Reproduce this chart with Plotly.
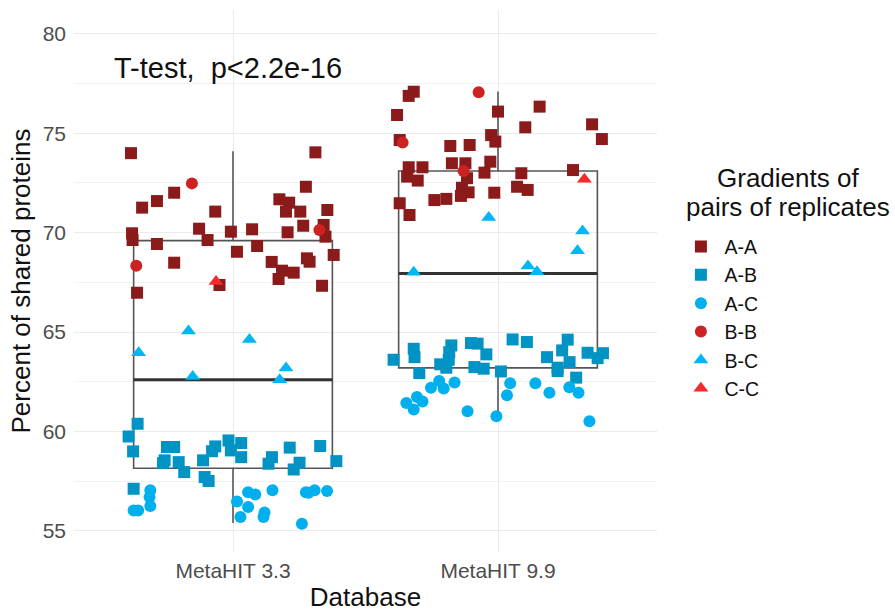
import plotly.graph_objects as go

# ---------------- data ----------------
databases = ["MetaHIT 3.3", "MetaHIT 9.9"]
groups = ["A-A", "A-B", "A-C", "B-B", "B-C", "C-C"]
legend_title_lines = ["Gradients of", "pairs of replicates"]

# box statistics (per database)
box_q1 = [58.15, 63.2]
box_median = [62.6, 67.95]
box_q3 = [69.6, 73.1]
box_low = [55.4, 60.9]
box_high = [74.1, 77.1]

# point values (per group, per database) with horizontal jitter offsets
AA_33 = [74.0, 74.04, 72.01, 71.59, 71.26, 72.31, 71.68, 71.51, 71.06, 71.06, 71.14, 71.06,
         69.97, 69.63, 70.20, 69.63, 70.05, 70.17, 70.35, 70.39, 70.02, 69.80, 69.43, 69.04,
         69.33, 68.88, 68.49, 68.53, 68.71, 68.54, 68.09, 67.99, 67.67, 67.33, 67.37, 66.98]
AA_33_dx = [-0.385, 0.311, -0.222, -0.287, -0.343, 0.275, 0.175, 0.212, 0.2, 0.254, 0.356, -0.067,
            -0.381, -0.379, -0.128, -0.096, -0.008, 0.072, 0.265, 0.342, 0.206, 0.349, -0.287, 0.015,
            0.091, 0.38, -0.222, 0.146, 0.279, 0.289, 0.185, 0.229, 0.172, 0.336, -0.051, -0.362]
AA_99 = [77.09, 76.88, 75.92, 76.09, 76.34, 75.30, 75.45, 74.71, 74.66, 74.36, 74.41, 74.91,
         74.58, 73.49, 73.49, 73.57, 73.02, 73.29, 73.29, 72.82, 72.62, 72.74, 72.26, 72.03,
         71.85, 71.64, 71.70, 72.01, 72.99, 72.31, 72.15, 73.15, 71.48, 70.89]
AA_99_dx = [-0.318, -0.337, -0.381, 0.0, 0.157, 0.103, 0.355, 0.392, -0.371, -0.18, -0.107, -0.026,
            -0.01, -0.174, -0.123, -0.029, -0.051, -0.337, -0.285, -0.343, -0.303, -0.117, -0.136, -0.111,
            -0.14, -0.24, -0.195, -0.014, 0.088, 0.072, 0.112, 0.283, -0.371, -0.334]

AB_33 = [60.39, 59.75, 59.0, 59.22, 59.22, 58.55, 58.41, 58.46, 57.96, 58.55, 59.25, 59.01, 59.55,
         59.42, 58.71, 59.05, 57.71, 57.51, 58.71, 58.38, 59.19, 58.43, 58.09, 59.27, 58.51, 57.12]
AB_33_dx = [-0.36, -0.394, -0.377, -0.249, -0.222, -0.258, -0.264, -0.205, -0.184, -0.113, -0.067, -0.079, -0.017,
            0.031, 0.031, -0.008, -0.107, -0.092, 0.147, 0.134, 0.214, 0.251, 0.229, 0.329, 0.39, -0.375]
AB_99 = [63.61, 64.16, 63.74, 62.94, 64.33, 63.99, 63.61, 63.38, 63.21, 64.45, 64.42, 63.88, 63.24, 63.16,
         63.02, 64.63, 64.50, 63.74, 64.62, 64.08, 63.49, 63.21, 63.04, 62.71, 63.96, 63.94, 63.69]
AB_99_dx = [-0.394, -0.318, -0.315, -0.297, -0.176, -0.184, -0.186, -0.218, -0.195, -0.102, -0.077, -0.044, -0.089, -0.054,
            0.011, 0.055, 0.109, 0.185, 0.263, 0.242, 0.27, 0.225, 0.225, 0.295, 0.338, 0.396, 0.376]

AC_33 = [57.04, 56.7, 56.25, 56.03, 56.03, 56.48, 56.95, 56.83, 56.20, 55.70, 57.05, 55.93, 55.70,
         55.36, 56.95, 57.04, 57.01, 56.92]
AC_33_dx = [-0.312, -0.315, -0.312, -0.375, -0.358, 0.015, 0.057, 0.084, 0.057, 0.028, 0.149, 0.119, 0.115,
            0.26, 0.275, 0.308, 0.355, 0.285]
AC_99 = [61.43, 61.73, 61.51, 61.11, 62.20, 62.54, 62.16, 62.46, 61.02, 60.77, 62.43, 61.82, 62.43,
         61.95, 62.23, 61.95, 60.52]
AC_99_dx = [-0.346, -0.306, -0.285, -0.318, -0.253, -0.222, -0.205, -0.164, -0.115, -0.006, 0.046, 0.034, 0.141,
            0.194, 0.269, 0.304, 0.345]

BB_33 = [72.48, 70.14, 68.34]
BB_33_dx = [-0.155, 0.326, -0.365]
BB_99 = [77.06, 74.53, 73.10]
BB_99_dx = [-0.073, -0.36, -0.13]

BC_33 = [63.96, 65.05, 64.63, 62.77, 63.19, 62.6]
BC_33_dx = [-0.356, -0.168, 0.062, -0.152, 0.2, 0.176]
BC_99 = [70.77, 70.09, 69.09, 68.01, 68.32, 68.04]
BC_99_dx = [-0.035, 0.319, 0.3, -0.318, 0.113, 0.147]

CC_33 = [67.54]
CC_33_dx = [-0.064]
CC_99 = [72.69]
CC_99_dx = [0.326]

annotation_text = "T-test,  p<2.2e-16"

# ---------------- figure ----------------
FONT = "Liberation Sans, Arial, sans-serif"
fig = go.Figure()

box_x = [1, 2]
fig.add_trace(go.Box(
    x=box_x, q1=box_q1, median=box_median, q3=box_q3,
    lowerfence=box_low, upperfence=box_high,
    width=0.75, whiskerwidth=0, boxpoints=False,
    line=dict(color="#555555", width=1.6),
    fillcolor="rgba(0,0,0,0)", showlegend=False, hoverinfo="skip",
))
# thicker median lines, as in ggplot
for i, m in enumerate(box_median):
    fig.add_trace(go.Scatter(
        x=[box_x[i] - 0.375, box_x[i] + 0.375], y=[m, m], mode="lines",
        line=dict(color="#333333", width=3), showlegend=False, hoverinfo="skip",
    ))

series = [
    ("A-A", AA_33, AA_33_dx, AA_99, AA_99_dx, "square", "#8B1A1A", 12),
    ("A-B", AB_33, AB_33_dx, AB_99, AB_99_dx, "square", "#0093C4", 12),
    ("A-C", AC_33, AC_33_dx, AC_99, AC_99_dx, "circle", "#00B0EE", 12),
    ("B-B", BB_33, BB_33_dx, BB_99, BB_99_dx, "circle", "#CC2222", 12),
    ("B-C", BC_33, BC_33_dx, BC_99, BC_99_dx, "triangle-up", "#00B7F5", 13),
    ("C-C", CC_33, CC_33_dx, CC_99, CC_99_dx, "triangle-up", "#F52A2A", 13),
]
for name, y1, d1, y2, d2, sym, col, sz in series:
    xs = [1 + d for d in d1] + [2 + d for d in d2]
    ys = list(y1) + list(y2)
    fig.add_trace(go.Scatter(
        x=xs, y=ys, mode="markers", name=name,
        marker=dict(symbol=sym, color=col, size=sz, line=dict(width=0)),
    ))

fig.add_annotation(x=0.98, y=78.3, xref="x", yref="y", text=annotation_text,
                   showarrow=False, font=dict(family=FONT, size=29, color="#111111"))

# legend title, centred, two lines
for line_text, ypos in zip(legend_title_lines, [0.690, 0.637]):
    fig.add_annotation(x=1.224, y=ypos, xref="paper", yref="paper", text=line_text,
                       showarrow=False, xanchor="center", yanchor="middle",
                       font=dict(family=FONT, size=26, color="#111111"))

fig.update_layout(
    width=895, height=612,
    margin=dict(l=74, r=238, t=10, b=60, autoexpand=False),
    paper_bgcolor="white", plot_bgcolor="white",
    font=dict(family=FONT, color="#111111"),
    xaxis=dict(
        range=[0.4, 2.6], tickvals=[1, 2], ticktext=databases,
        showgrid=True, gridcolor="#EBEBEB", gridwidth=1.2, zeroline=False,
        showline=False, ticks="", tickfont=dict(size=21, color="#4D4D4D"),
        ticklabelstandoff=4, automargin=False,
        title=dict(text="Database", font=dict(size=26, color="#111111"), standoff=6),
    ),
    yaxis=dict(
        range=[53.94, 81.2], tickvals=[55, 60, 65, 70, 75, 80],
        showgrid=True, gridcolor="#EBEBEB", gridwidth=1.2, zeroline=False,
        showline=False, ticks="", tickfont=dict(size=21, color="#4D4D4D"),
        ticklabelstandoff=7, automargin=False,
        minor=dict(tickvals=[57.5, 62.5, 67.5, 72.5, 77.5], showgrid=True,
                   gridcolor="#F3F3F3", gridwidth=0.8),
        title=dict(text="Percent of shared proteins", font=dict(size=26, color="#111111"), standoff=4),
    ),
    legend=dict(
        x=1.035, y=0.599, xanchor="left", yanchor="top",
        font=dict(size=19.5, color="#111111"), itemwidth=37,
        tracegroupgap=0, bgcolor="rgba(0,0,0,0)",
    ),
)

fig.write_html("out.html")
